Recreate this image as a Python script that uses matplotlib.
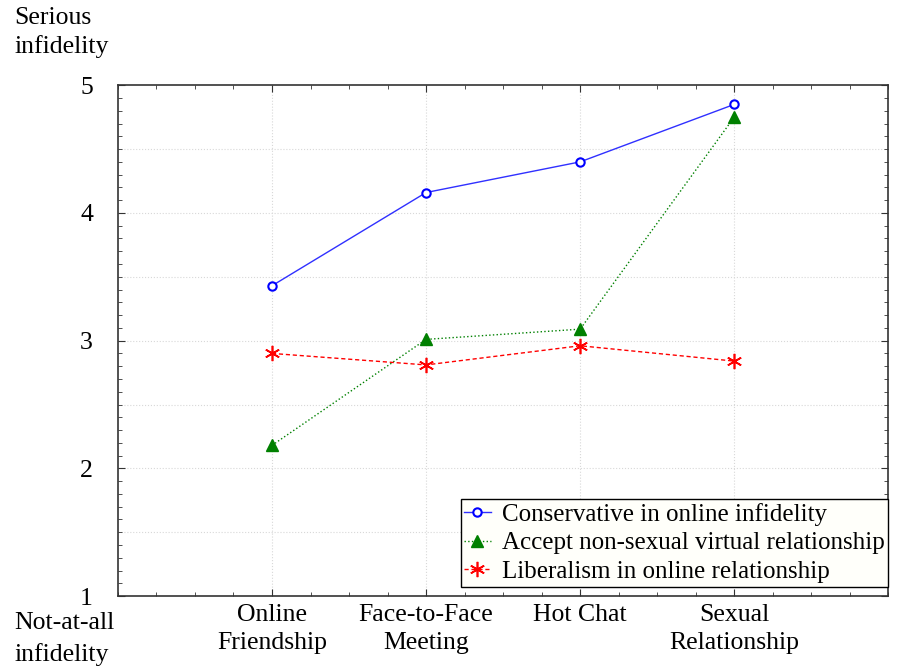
import matplotlib
matplotlib.use("Agg")
import matplotlib.pyplot as plt
from matplotlib.ticker import MultipleLocator

categories = ["Online\nFriendship", "Face-to-Face\nMeeting", "Hot Chat", "Sexual\nRelationship"]
conservative = [3.43, 4.16, 4.40, 4.85]
accept = [2.18, 3.01, 3.09, 4.75]
liberalism = [2.90, 2.81, 2.96, 2.84]
series_names = ["Conservative in online infidelity",
                "Accept non-sexual virtual relationship",
                "Liberalism in online relationship"]
yticks = [1, 2, 3, 4, 5]

plt.rcParams['font.family'] = ['Liberation Serif', 'DejaVu Serif']

fig = plt.figure(figsize=(9, 6.66), dpi=100)
ax = fig.add_axes([0.131, 0.105, 0.856, 0.767])

x = list(range(1, len(categories) + 1))
ax.plot(x, conservative, color='#3030ff', lw=1.0, ls='-', marker='o', ms=6,
        mfc='white', mec='#0000ff', mew=1.5, label=series_names[0])
ax.plot(x, accept, color='#008000', lw=1.0, ls=':', marker='^', ms=9,
        mfc='#008000', mec='#008000', label=series_names[1])
ax.plot(x, liberalism, color='#ff0000', lw=1.0, ls=(0, (3, 2)), marker=(6, 2, 0), ms=11,
        mfc='#ff0000', mec='#ff0000', mew=1.2, label=series_names[2])

ax.set_xlim(0, 5)
ax.set_ylim(1, 5)
ax.set_xticks(x)
ax.set_xticklabels(categories, fontsize=18.5, linespacing=1.35)
ax.set_yticks(yticks)
ax.set_yticklabels([str(v) for v in yticks], fontsize=18.5)
ax.xaxis.set_minor_locator(MultipleLocator(0.25))
ax.yaxis.set_minor_locator(MultipleLocator(0.1))
ax.tick_params(which='both', direction='in', top=True, right=True, color='#333333')
ax.tick_params(which='major', length=5, pad=6)
ax.tick_params(which='minor', length=3)
ax.tick_params(axis='y', which='major', pad=18)

for yv in [1.5, 2, 2.5, 3, 3.5, 4, 4.5]:
    ax.axhline(yv, color='#d8d8d8', lw=0.8, ls=':', zorder=0)
for xv in x:
    ax.axvline(xv, color='#d8d8d8', lw=0.8, ls=':', zorder=0)

for s in ax.spines.values():
    s.set_color('#333333')
    s.set_linewidth(1.2)

fig.text(0.016, 0.99, "Serious\ninfidelity", fontsize=18.5, ha='left', va='top', linespacing=1.35)
fig.text(0.016, 0.0, "Not-at-all\ninfidelity", fontsize=18.5, ha='left', va='bottom', linespacing=1.5)

leg = ax.legend(loc='lower right', bbox_to_anchor=(1.0, 0.018), fontsize=18,
                frameon=True, fancybox=False, framealpha=1, edgecolor='black',
                facecolor='#fffffa', borderpad=0.15, labelspacing=0.25,
                handlelength=1.05, handletextpad=0.45, borderaxespad=0)
leg.get_frame().set_linewidth(1.0)

fig.savefig("out.png", dpi=100)
